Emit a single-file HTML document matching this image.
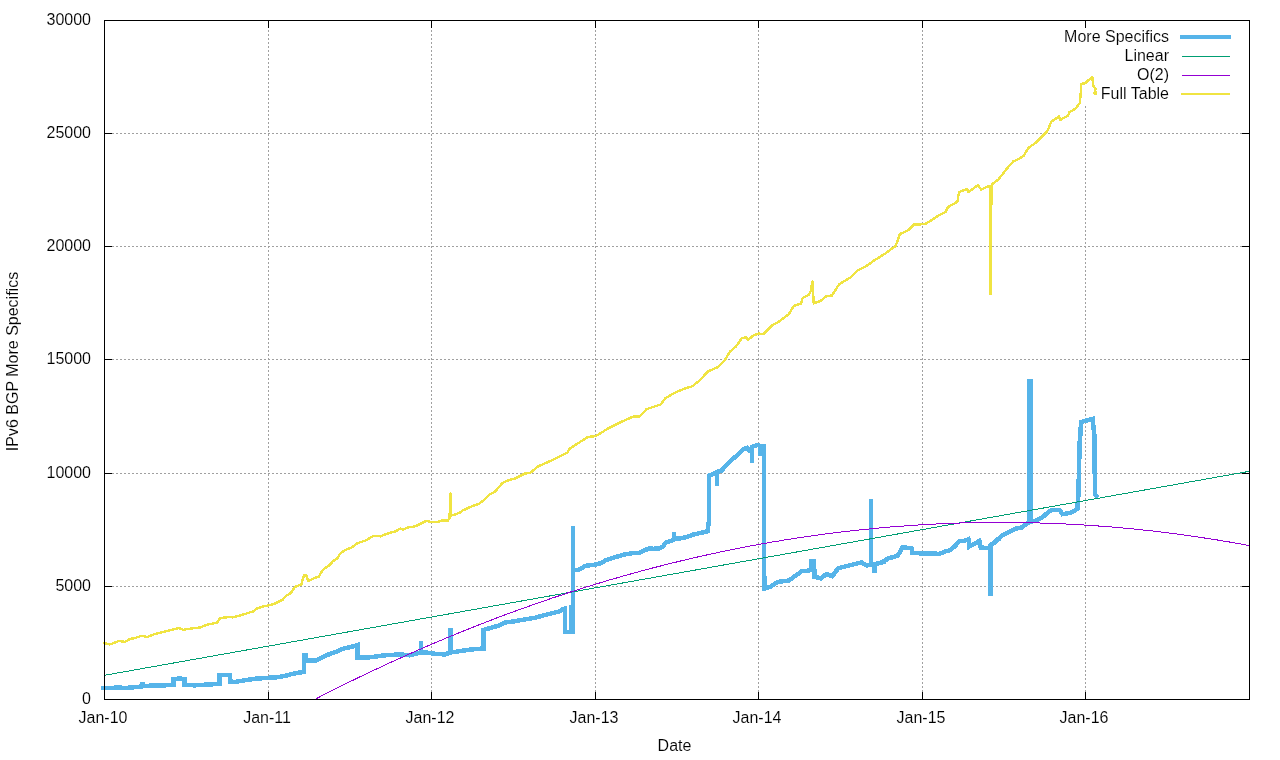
<!DOCTYPE html>
<html><head><meta charset="utf-8"><style>
html,body{margin:0;padding:0;width:1280px;height:760px;overflow:hidden;background:#fff}
#w{position:absolute;left:0;top:0;width:1280px;height:760px;will-change:transform}
</style></head><body><div id="w">
<svg width="1280" height="760" viewBox="0 0 1280 760" style="position:absolute;left:0;top:0"><rect width="1280" height="760" fill="#fff"/><path d="M268.5 700V28M431.5 700V28M595.5 700V28M758.5 700V28M922.5 700V28M1085.5 700V28M104 586.5H1242M104 473.5H1242M104 359.5H1242M104 246.5H1242M104 133.5H1242" stroke="#a0a0a0" stroke-width="1" stroke-dasharray="2 2" fill="none" shape-rendering="crispEdges"/><path d="M268.5 699.5v-7.6M268.5 20.5v7M431.5 699.5v-7.6M431.5 20.5v7M595.5 699.5v-7.6M595.5 20.5v7M758.5 699.5v-7.6M758.5 20.5v7M922.5 699.5v-7.6M922.5 20.5v7M1085.5 699.5v-7.6M1085.5 20.5v7M104.5 586.5h7M1249.5 586.5h-7.6M104.5 473.5h7M1249.5 473.5h-7.6M104.5 359.5h7M1249.5 359.5h-7.6M104.5 246.5h7M1249.5 246.5h-7.6M104.5 133.5h7M1249.5 133.5h-7.6" stroke="#000" stroke-width="1" fill="none" shape-rendering="crispEdges"/><defs><clipPath id="c"><rect x="101" y="20" width="1149" height="680"/></clipPath></defs><rect x="1050" y="28" width="198" height="77" fill="#fff"/><g clip-path="url(#c)"><path d="M102.0 688.0 L110.0 688.0 L118.0 687.5 L125.0 688.0 L135.0 687.2 L141.0 686.5 L142.5 682.5 L143.5 686.0 L152.0 685.6 L165.0 685.3 L173.5 684.5 L173.5 679.0 L180.0 678.5 L184.5 679.0 L184.5 685.0 L195.0 685.3 L210.0 684.4 L219.4 684.0 L219.4 675.0 L230.0 675.0 L230.0 681.5 L235.0 681.9 L245.0 680.3 L250.0 679.5 L255.0 678.8 L268.0 677.8 L277.5 677.2 L285.0 675.9 L294.0 673.5 L300.0 672.5 L304.0 672.0 L304.0 655.6 L305.6 655.6 L305.6 660.3 L316.0 660.3 L321.0 658.1 L325.0 655.8 L337.5 651.3 L344.0 648.3 L350.0 647.2 L357.5 645.0 L357.5 657.5 L370.0 657.3 L385.0 655.3 L400.0 654.4 L410.0 655.3 L419.0 653.0 L421.0 652.5 L421.0 641.2 L421.0 652.5 L426.0 652.5 L435.0 653.8 L445.0 654.4 L449.0 653.0 L450.5 652.5 L450.5 628.2 L451.0 652.0 L455.0 651.9 L465.0 650.3 L475.0 649.1 L483.5 648.5 L483.5 630.0 L490.0 628.1 L500.0 625.3 L505.0 622.5 L515.0 621.2 L525.0 619.4 L535.0 617.8 L545.0 615.0 L555.0 612.5 L560.0 611.2 L563.0 609.0 L565.0 608.5 L565.0 632.0 L571.0 632.0 L571.0 604.5 L571.0 632.0 L573.0 632.0 L573.0 526.0 L573.0 570.0 L577.8 570.1 L585.7 565.8 L595.1 564.6 L600.0 563.4 L606.0 560.2 L614.0 557.6 L624.0 554.5 L634.0 553.0 L639.0 552.8 L645.0 550.1 L649.0 548.5 L653.0 548.8 L659.2 548.4 L663.4 546.3 L665.5 542.6 L670.8 541.0 L674.0 539.5 L674.0 532.0 L674.0 539.0 L681.3 538.2 L687.6 536.8 L692.9 534.7 L707.4 531.4 L709.0 520.6 L709.0 475.6 L714.5 473.4 L717.0 472.0 L717.0 485.7 L717.0 472.0 L721.0 471.0 L728.0 463.6 L733.0 458.7 L738.0 454.6 L743.0 449.5 L747.1 447.8 L750.0 451.7 L751.8 447.0 L751.8 462.5 L751.8 447.0 L758.0 444.8 L760.5 446.0 L760.5 456.0 L760.5 446.0 L763.8 446.2 L764.3 588.5 L770.1 587.0 L777.4 582.0 L789.0 580.5 L794.8 576.2 L802.0 571.1 L807.9 570.7 L811.0 570.0 L811.5 561.2 L814.0 561.2 L814.5 576.7 L820.8 578.3 L826.6 574.0 L832.4 576.2 L838.2 568.2 L849.8 565.3 L861.4 562.4 L866.8 565.4 L871.0 565.0 L871.0 499.0 L871.0 565.0 L874.5 565.0 L874.5 572.7 L874.5 564.0 L878.7 563.4 L885.8 561.1 L881.6 562.4 L888.9 558.1 L897.6 555.9 L902.6 547.2 L912.0 548.6 L912.0 553.0 L920.5 553.3 L933.7 553.3 L939.0 554.0 L945.5 551.3 L950.0 550.3 L955.5 545.7 L959.2 541.0 L963.8 541.0 L968.4 539.2 L969.3 546.6 L974.0 543.8 L979.5 541.0 L980.8 547.5 L986.8 548.0 L990.5 548.0 L990.5 596.3 L990.5 545.0 L994.2 542.9 L999.7 538.3 L992.9 543.4 L1003.3 534.7 L1011.8 530.8 L1017.1 528.2 L1021.7 527.5 L1027.6 522.9 L1029.0 522.5 L1029.0 381.3 L1031.0 381.3 L1031.0 521.6 L1034.9 520.9 L1042.1 517.6 L1048.7 511.7 L1052.1 510.0 L1059.5 510.0 L1062.6 514.2 L1071.0 512.7 L1077.4 508.9 L1078.4 494.5 L1079.7 441.8 L1080.4 434.0 L1081.0 422.0 L1092.9 418.8 L1093.2 424.7 L1094.5 436.6 L1094.9 494.5 L1096.2 495.8" stroke="#56b4e9" stroke-width="4.5" fill="none" shape-rendering="crispEdges" stroke-linejoin="miter" stroke-miterlimit="2" stroke-linecap="square"/><path d="M104.5 675.3L1249.5 471.3" stroke="#009e73" stroke-width="1" fill="none" shape-rendering="crispEdges"/><path d="M315.8 698.9 L319.8 696.8 L323.8 694.8 L327.8 692.8 L331.8 690.7 L335.8 688.7 L339.8 686.7 L343.8 684.8 L347.8 682.8 L351.8 680.8 L355.8 678.9 L359.8 676.9 L363.8 675.0 L367.8 673.1 L371.8 671.2 L375.8 669.3 L379.8 667.5 L383.8 665.6 L387.8 663.7 L391.8 661.9 L395.8 660.1 L399.8 658.3 L403.8 656.5 L407.8 654.7 L411.8 652.9 L415.8 651.1 L419.8 649.4 L423.8 647.6 L427.8 645.9 L431.8 644.2 L435.8 642.5 L439.8 640.8 L443.8 639.1 L447.8 637.4 L451.8 635.8 L455.8 634.1 L459.8 632.5 L463.8 630.9 L467.8 629.3 L471.8 627.7 L475.8 626.1 L479.8 624.5 L483.8 623.0 L487.8 621.4 L491.8 619.9 L495.8 618.3 L499.8 616.8 L503.8 615.3 L507.8 613.8 L511.8 612.4 L515.8 610.9 L519.8 609.4 L523.8 608.0 L527.8 606.6 L531.8 605.2 L535.8 603.7 L539.8 602.4 L543.8 601.0 L547.8 599.6 L551.8 598.2 L555.8 596.9 L559.8 595.6 L563.8 594.3 L567.8 592.9 L571.8 591.6 L575.8 590.4 L579.8 589.1 L583.8 587.8 L587.8 586.6 L591.8 585.3 L595.8 584.1 L599.8 582.9 L603.8 581.7 L607.8 580.5 L611.8 579.3 L615.8 578.2 L619.8 577.0 L623.8 575.9 L627.8 574.8 L631.8 573.6 L635.8 572.5 L639.8 571.4 L643.8 570.4 L647.8 569.3 L651.8 568.2 L655.8 567.2 L659.8 566.2 L663.8 565.1 L667.8 564.1 L671.8 563.1 L675.8 562.2 L679.8 561.2 L683.8 560.2 L687.8 559.3 L691.8 558.3 L695.8 557.4 L699.8 556.5 L703.8 555.6 L707.8 554.7 L711.8 553.8 L715.8 553.0 L719.8 552.1 L723.8 551.3 L727.8 550.5 L731.8 549.6 L735.8 548.8 L739.8 548.0 L743.8 547.3 L747.8 546.5 L751.8 545.7 L755.8 545.0 L759.8 544.3 L763.8 543.5 L767.8 542.8 L771.8 542.1 L775.8 541.5 L779.8 540.8 L783.8 540.1 L787.8 539.5 L791.8 538.9 L795.8 538.2 L799.8 537.6 L803.8 537.0 L807.8 536.4 L811.8 535.9 L815.8 535.3 L819.8 534.7 L823.8 534.2 L827.8 533.7 L831.8 533.2 L835.8 532.7 L839.8 532.2 L843.8 531.7 L847.8 531.2 L851.8 530.8 L855.8 530.3 L859.8 529.9 L863.8 529.5 L867.8 529.1 L871.8 528.7 L875.8 528.3 L879.8 527.9 L883.8 527.6 L887.8 527.2 L891.8 526.9 L895.8 526.6 L899.8 526.2 L903.8 526.0 L907.8 525.7 L911.8 525.4 L915.8 525.1 L919.8 524.9 L923.8 524.6 L927.8 524.4 L931.8 524.2 L935.8 524.0 L939.8 523.8 L943.8 523.6 L947.8 523.5 L951.8 523.3 L955.8 523.2 L959.8 523.0 L963.8 522.9 L967.8 522.8 L971.8 522.7 L975.8 522.6 L979.8 522.6 L983.8 522.5 L987.8 522.5 L991.8 522.4 L995.8 522.4 L999.8 522.4 L1003.8 522.4 L1007.8 522.4 L1011.8 522.4 L1015.8 522.5 L1019.8 522.5 L1023.8 522.6 L1027.8 522.7 L1031.8 522.8 L1035.8 522.9 L1039.8 523.0 L1043.8 523.1 L1047.8 523.2 L1051.8 523.4 L1055.8 523.5 L1059.8 523.7 L1063.8 523.9 L1067.8 524.1 L1071.8 524.3 L1075.8 524.5 L1079.8 524.7 L1083.8 525.0 L1087.8 525.2 L1091.8 525.5 L1095.8 525.8 L1099.8 526.1 L1103.8 526.4 L1107.8 526.7 L1111.8 527.0 L1115.8 527.4 L1119.8 527.7 L1123.8 528.1 L1127.8 528.4 L1131.8 528.8 L1135.8 529.2 L1139.8 529.6 L1143.8 530.1 L1147.8 530.5 L1151.8 530.9 L1155.8 531.4 L1159.8 531.9 L1163.8 532.4 L1167.8 532.9 L1171.8 533.4 L1175.8 533.9 L1179.8 534.4 L1183.8 535.0 L1187.8 535.5 L1191.8 536.1 L1195.8 536.7 L1199.8 537.3 L1203.8 537.9 L1207.8 538.5 L1211.8 539.1 L1215.8 539.7 L1219.8 540.4 L1223.8 541.1 L1227.8 541.7 L1231.8 542.4 L1235.8 543.1 L1239.8 543.8 L1243.8 544.6 L1247.8 545.3 L1249.5 545.6" stroke="#9400d3" stroke-width="1" fill="none" shape-rendering="crispEdges"/><path d="M103.1 642.9 L110.0 644.4 L118.8 641.0 L125.0 641.9 L130.0 638.8 L135.0 638.1 L141.2 635.9 L147.5 636.9 L155.0 634.0 L165.0 631.5 L178.8 628.1 L183.1 629.8 L193.8 628.1 L200.0 627.5 L206.2 625.0 L217.5 622.5 L220.0 618.1 L230.6 616.9 L232.5 617.5 L243.8 614.4 L253.8 611.2 L257.5 608.1 L264.5 606.2 L273.7 604.2 L282.9 599.6 L285.5 596.3 L290.8 593.0 L294.7 587.1 L301.3 584.5 L304.0 575.3 L306.6 575.3 L307.9 581.2 L314.5 577.9 L319.0 576.6 L321.0 572.6 L323.7 569.3 L329.0 565.4 L332.9 561.4 L337.5 558.2 L339.5 554.2 L344.7 550.3 L351.3 547.6 L357.9 543.0 L365.8 540.4 L372.4 536.4 L376.3 535.8 L380.3 536.4 L386.8 533.8 L396.0 531.2 L400.0 528.6 L403.3 529.5 L407.9 527.5 L415.8 526.2 L426.3 520.9 L431.6 522.2 L436.8 522.2 L442.1 520.3 L447.6 520.8 L449.5 518.0 L450.5 493.5 L451.0 516.0 L452.4 515.0 L456.0 514.2 L460.3 512.4 L461.8 511.0 L468.4 507.8 L475.0 505.1 L478.9 503.8 L484.2 499.9 L489.5 494.6 L494.7 492.0 L502.6 482.8 L509.2 480.1 L515.8 478.2 L525.0 473.6 L530.3 472.9 L538.2 466.3 L548.7 461.7 L557.9 457.4 L567.4 452.7 L569.7 448.7 L576.9 444.0 L587.9 436.9 L595.8 436.1 L608.5 428.2 L619.5 422.7 L633.7 416.4 L640.0 416.4 L646.4 409.2 L660.6 404.5 L665.3 398.2 L674.8 392.7 L684.3 388.7 L692.2 386.3 L700.1 380.0 L707.9 371.4 L717.4 367.4 L725.3 359.5 L730.0 351.6 L736.3 346.1 L741.9 338.2 L745.8 337.4 L748.2 339.8 L752.9 335.8 L758.5 333.5 L763.2 334.2 L768.7 328.7 L772.7 324.8 L779.0 321.6 L788.5 314.5 L794.0 305.8 L801.1 303.4 L802.7 297.9 L809.0 294.8 L810.6 291.6 L812.5 281.3 L813.7 303.4 L820.1 301.1 L826.4 296.3 L831.9 295.5 L839.0 284.5 L845.3 280.5 L851.7 276.6 L857.9 270.3 L865.8 266.4 L873.7 260.8 L886.3 252.9 L895.8 245.8 L899.8 234.0 L903.7 232.4 L908.5 230.0 L914.0 224.5 L919.5 224.5 L925.8 223.7 L932.1 219.8 L939.3 215.0 L945.6 211.9 L948.0 207.1 L953.5 204.0 L957.4 201.6 L959.0 192.1 L966.9 189.0 L968.5 192.1 L978.0 185.0 L981.1 189.7 L987.4 186.6 L990.5 186.3 L990.5 294.0 L991.5 186.0 L992.2 184.2 L998.5 179.5 L1006.3 169.2 L1013.4 161.3 L1017.4 159.7 L1023.7 155.8 L1028.4 147.9 L1036.3 142.3 L1047.3 131.3 L1051.3 121.8 L1059.2 116.3 L1060.0 120.2 L1067.9 115.5 L1069.4 112.3 L1075.8 108.4 L1079.7 102.9 L1080.5 96.6 L1081.3 83.9 L1085.2 83.2 L1092.3 76.8 L1093.1 85.5 L1095.5 88.5 L1094.5 93.5 L1096.3 92.0 L1095.5 94.8" stroke="#f0e442" stroke-width="2.4" fill="none" stroke-linejoin="round" shape-rendering="crispEdges"/></g><rect x="104.5" y="20.5" width="1145" height="679" stroke="#000" stroke-width="1" fill="none" shape-rendering="crispEdges"/><path d="M1180 37H1231" stroke="#56b4e9" stroke-width="4"/><path d="M1182 56.5H1230" stroke="#009e73" stroke-width="1"/><path d="M1182 75.5H1230" stroke="#9400d3" stroke-width="1"/><path d="M1181 94H1230" stroke="#f0e442" stroke-width="2"/><g font-family='"Liberation Sans", sans-serif' font-size="16" fill="#000" stroke="#fff" stroke-width="0.12"><text x="91" y="703.5" text-anchor="end">0</text><text x="91" y="590.5" text-anchor="end">5000</text><text x="91" y="477.5" text-anchor="end">10000</text><text x="91" y="363.5" text-anchor="end">15000</text><text x="91" y="250.5" text-anchor="end">20000</text><text x="91" y="137.5" text-anchor="end">25000</text><text x="91" y="24.5" text-anchor="end">30000</text><text x="103.0" y="723" text-anchor="middle">Jan-10</text><text x="267.0" y="723" text-anchor="middle">Jan-11</text><text x="430.0" y="723" text-anchor="middle">Jan-12</text><text x="594.0" y="723" text-anchor="middle">Jan-13</text><text x="757.0" y="723" text-anchor="middle">Jan-14</text><text x="921.0" y="723" text-anchor="middle">Jan-15</text><text x="1084.0" y="723" text-anchor="middle">Jan-16</text><text x="674.5" y="751" text-anchor="middle">Date</text><text transform="translate(18 361.5) rotate(-90)" text-anchor="middle">IPv6 BGP More Specifics</text><text x="1169" y="42" text-anchor="end">More Specifics</text><text x="1169" y="61" text-anchor="end">Linear</text><text x="1169" y="80" text-anchor="end">O(2)</text><text x="1169" y="99" text-anchor="end">Full Table</text></g></svg>
</div></body></html>
